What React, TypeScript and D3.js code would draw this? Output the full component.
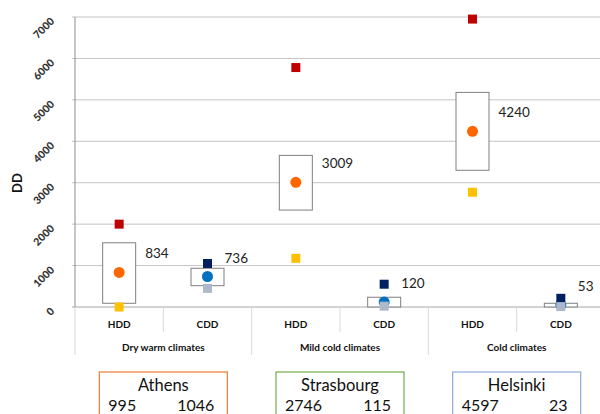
import * as d3 from 'd3'

const categories = ['HDD', 'CDD', 'HDD', 'CDD', 'HDD', 'CDD']
const groups = ['Dry warm climates', 'Mild cold  climates', 'Cold climates']
const maxValues = [2000, 1050, 5780, 550, 6950, 210]
const minValues = [0, 450, 1175, 20, 2770, 10]
const meanValues = [834, 736, 3009, 120, 4240, 53]
const boxLow = [90, 515, 2340, 0, 3300, 0]
const boxHigh = [1550, 935, 3660, 235, 5180, 90]
const yTicks = [0, 1000, 2000, 3000, 4000, 5000, 6000, 7000]

const cities = ['Athens', 'Strasbourg', 'Helsinki']
const cityHdd = [995, 2746, 4597]
const cityCdd = [1046, 115, 23]
const cityColors = ['#ed7d31', '#70ad47', '#8faadc']

const FONT = 'Lato, "Open Sans", sans-serif'
const W = 600
const H = 414
const margin = { top: 17, left: 75, bottom: 307, right: 605 }

export default function App() {
  const idx = categories.map((_, i) => i)
  const x = d3.scaleBand<number>().domain(idx).range([margin.left, margin.right])
  const y = d3.scaleLinear().domain([0, 7000]).range([margin.bottom, margin.top])
  const bw = x.bandwidth()
  const gx = d3.scaleBand<number>().domain(groups.map((_, i) => i)).range([margin.left, margin.right])
  const boxW = 33
  const sq = 9

  return (
    <svg width={W} height={H} style={{ position: 'absolute', left: 0, top: 0, background: '#fff' }} fontFamily={FONT}>
      {/* gridlines + y ticks */}
      {yTicks.map((t) => (
        <g key={t}>
          <line x1={margin.left - 3} x2={W} y1={y(t)} y2={y(t)} stroke={t === 0 ? '#a6a6a6' : '#c4c4c4'} strokeWidth={1} />
          <text
            transform={`translate(55,${y(t) + 5}) rotate(-45)`}
            textAnchor="end"
            fontSize={10.5}
            fontWeight={900}
            fill="#333"
          >
            {t}
          </text>
        </g>
      ))}
      <line x1={margin.left} x2={margin.left} y1={margin.top} y2={margin.bottom} stroke="#8c8c8c" />
      <text transform="translate(22,183) rotate(-90)" textAnchor="middle" fontSize={13} fontWeight="bold" fill="#111">
        DD
      </text>

      {/* category separators */}
      {d3.range(categories.length + 1).map((i) => {
        const xx = margin.left + i * bw
        const long = i % 2 === 0
        return <line key={i} x1={xx} x2={xx} y1={margin.bottom} y2={long ? 355 : 332} stroke="#d9d9d9" />
      })}
      {categories.map((c, i) => (
        <text key={i} x={x(i)! + bw / 2} y={327.5} textAnchor="middle" fontSize={10} fontWeight="bold" fill="#111">
          {c}
        </text>
      ))}
      {groups.map((g, i) => (
        <text key={i} x={gx(i)! + gx.bandwidth() / 2} y={351} textAnchor="middle" fontSize={10} fontWeight="bold" fill="#111">
          {g}
        </text>
      ))}

      {/* boxes */}
      {idx.map((i) => {
        const cx = x(i)! + bw / 2
        return (
          <rect
            key={i}
            x={cx - boxW / 2}
            y={y(boxHigh[i])}
            width={boxW}
            height={y(boxLow[i]) - y(boxHigh[i])}
            fill="#fff"
            stroke="#7f7f7f"
            strokeWidth={1}
          />
        )
      })}

      {/* markers */}
      {idx.map((i) => {
        const cx = x(i)! + bw / 2
        const heat = categories[i] === 'HDD'
        return (
          <g key={i}>
            <circle cx={cx} cy={y(meanValues[i])} r={5.5} fill={heat ? '#ff6600' : '#0070c0'} />
            <rect x={cx - sq / 2} y={y(maxValues[i]) - sq / 2} width={sq} height={sq} fill={heat ? '#c00000' : '#002060'} />
            <rect x={cx - sq / 2} y={y(minValues[i]) - sq / 2} width={sq} height={sq} fill={heat ? '#ffc000' : '#adb9ca'} />
            <text x={cx + (heat ? 26 : 17)} y={y(meanValues[i]) - 14} fontSize={13.5} fill="#222">
              {meanValues[i]}
            </text>
          </g>
        )
      })}

      {/* city boxes */}
      {cities.map((c, i) => {
        const cx = gx(i)! + gx.bandwidth() / 2
        const left = cx - 64
        const right = cx + 64
        return (
          <g key={c}>
            <rect x={left} y={372} width={right - left} height={60} fill="#fff" stroke={cityColors[i]} strokeWidth={1.2} />
            <text x={cx} y={391} textAnchor="middle" fontSize={16.5} fill="#111">
              {c}
            </text>
            <text x={left + 9} y={410.5} fontSize={16} fill="#111">
              {cityHdd[i]}
            </text>
            <text x={right - 13} y={410.5} textAnchor="end" fontSize={16} fill="#111">
              {cityCdd[i]}
            </text>
          </g>
        )
      })}
    </svg>
  )
}
